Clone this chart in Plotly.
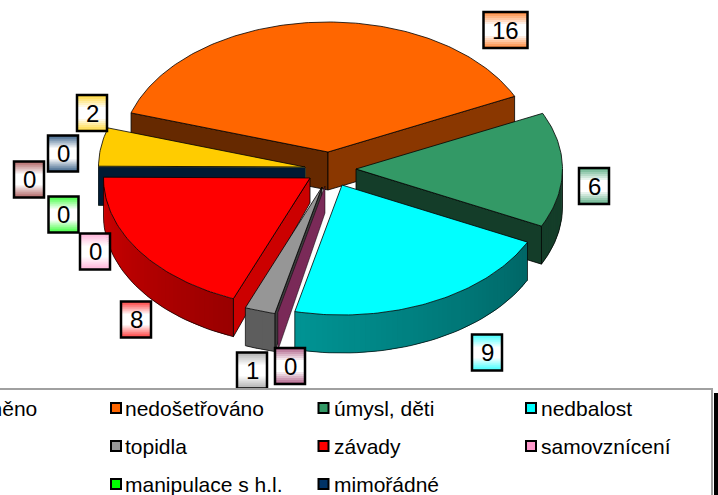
import math
import plotly.graph_objects as go

# ---- data (clockwise from the left edge of the large slice)
CATEGORIES = ["nedošetřováno", "úmysl, děti", "nedbalost", "neznámé", "topidla", "závady",
              "samovznícení", "manipulace s h.l.", "jiné", "mimořádné", "neobjasněno"]
VALUES = [16, 6, 9, 0, 1, 8, 0, 0, 0, 0, 2]
COLORS = ["#FF6600", "#339966", "#00FFFF", "#993366", "#969696", "#FF0000",
          "#FF99CC", "#00FF00", "#993333", "#003366", "#FFCC00"]
VALUE_LABELS = ["16", "6", "9", "0", "1", "8", "0", "0", "0", "0", "2"]

# ---- presentation
W, H = 718, 495
START = -72.5
RX, RY, DEPTH = 206.5, 130.0, 38.0
APEX = [(328, 152), (356, 169), (342, 185), (325, 186), (322, 187), (310, 178),
        (305, 168), (305, 168), (305, 168), (305, 168), (305, 167)]
APEX_DEPTH = [38, 38, 38, 27, 30, 25, 38, 38, 38, 38, 38]
DRAW_ORDER = [0, 10, 6, 7, 8, 9, 1, 5, 4, 3, 2]
# shade factors: start radial face, end radial face, arc at start angle, arc at end angle
SHADE = {0: (.40, .54, .5, .5), 1: (.40, .40, .40, .40), 2: (.40, .40, .40, .58), 3: (.80, .80, .8, .8),
         4: (.40, .62, .62, .62), 5: (.80, .80, .60, .82), 6: (.7, .7, .7, .7), 7: (.7, .7, .7, .7),
         8: (.7, .7, .7, .7), 9: (.5, .5, .5, .5), 10: (.5, .5, .5, .5)}
ZERO_SIDE = {3: "#7A2A58", 9: "#001A33"}
LABEL_POS = [(505.5, 30), (594, 186), (487, 352.5), (290, 366), (252, 370.5), (136, 319.5),
             (95, 251.5), (63.5, 214.5), (29, 179.5), (63, 153.5), (92, 113)]
LEGEND_ROWS = [(0, 408, 0), (1, 408, 1), (2, 408, 2), (4, 446, 0), (5, 446, 1), (6, 446, 2),
               (7, 484, 0), (9, 484, 1)]
LEGEND_SWATCH_X = [116, 323.5, 531]
LEGEND_TEXT_X = [122.5, 331.5, 538.5]
FONT = "Liberation Sans, Arial, sans-serif"


def rgb(c):
    return tuple(int(c[i:i + 2], 16) for i in (1, 3, 5))


def shade(c, f):
    return "rgb(%d,%d,%d)" % tuple(round(v * f) for v in rgb(c))


def mix_white(c, t):
    return "rgb(%d,%d,%d)" % tuple(round(v + (255 - v) * t) for v in rgb(c))


def pt(apex, a, dz=0.0):
    r = math.radians(a)
    return apex[0] + RX * math.sin(r), apex[1] - RY * math.cos(r) + dz


def poly(fig, pts, fill, line="black", w=0.8):
    fig.add_trace(go.Scatter(x=[p[0] for p in pts] + [pts[0][0]], y=[p[1] for p in pts] + [pts[0][1]],
                             mode="lines", fill="toself", fillcolor=fill,
                             line=dict(color=line, width=w), hoverinfo="skip", showlegend=False))


total = sum(VALUES)
angles = []
cur = START
for v in VALUES:
    angles.append((cur, cur + 360.0 * v / total))
    cur += 360.0 * v / total

fig = go.Figure()
for i in DRAW_ORDER:
    a0, a1 = angles[i]
    ap, col = APEX[i], COLORS[i]
    d0 = APEX_DEPTH[i]
    s0, s1, c0, c1 = SHADE[i]
    if VALUES[i] == 0:
        side = ZERO_SIDE.get(i, shade(col, s0))
        p = pt(ap, a0)
        poly(fig, [ap, p, (p[0], p[1] + DEPTH), (ap[0], ap[1] + d0)], side,
             line=side if i != 3 else "black", w=0.5)
        continue
    # radial faces that look towards the viewer
    for a, f, seen in ((a0, s0, 180 < a0 % 360 < 360), (a1, s1, 0 < a1 % 360 < 180)):
        if seen:
            p = pt(ap, a)
            poly(fig, [ap, p, (p[0], p[1] + DEPTH), (ap[0], ap[1] + d0)], shade(col, f))
    # outer wall, only its front part shows
    lo, hi = max(a0, 90.0), min(a1, 270.0)
    if hi > lo:
        n = max(2, int((hi - lo) / 1.5))
        for k in range(n):
            t0 = lo + (hi - lo) * k / n
            t1 = min(hi, lo + (hi - lo) * (k + 1) / n + 1.5)
            f = c0 + (c1 - c0) * ((t0 + t0 + 1.5) / 2 - a0) / (a1 - a0)
            c = shade(col, f)
            poly(fig, [pt(ap, t0), pt(ap, t1), pt(ap, t1, DEPTH), pt(ap, t0, DEPTH)], c, line=c, w=0)
        arc = [pt(ap, lo + (hi - lo) * k / 40, DEPTH) for k in range(41)]
        fig.add_trace(go.Scatter(x=[p[0] for p in arc], y=[p[1] for p in arc], mode="lines",
                                 line=dict(color="black", width=0.7), hoverinfo="skip", showlegend=False))
        for a in (lo, hi):
            p = pt(ap, a)
            fig.add_trace(go.Scatter(x=[p[0], p[0]], y=[p[1], p[1] + DEPTH], mode="lines",
                                     line=dict(color="black", width=0.7), hoverinfo="skip", showlegend=False))
    # top surface
    m = max(4, int(a1 - a0))
    poly(fig, [ap] + [pt(ap, a0 + (a1 - a0) * k / m) for k in range(m + 1)], col)

shapes, annotations = [], []
# value labels with a fading fill
for i, (cx, cy) in enumerate(LABEL_POS):
    bw = 44 if len(VALUE_LABELS[i]) > 1 else 30
    bh = 36
    strips = 18
    for k in range(strips):
        y0 = cy - bh / 2 + bh * k / strips
        y1 = cy - bh / 2 + bh * (k + 1) / strips
        t = 1 - abs((k + .5) / strips - .5) * 2
        shapes.append(dict(type="rect", xref="x", yref="y", x0=cx - bw / 2, x1=cx + bw / 2, y0=y0, y1=y1 + .4,
                           fillcolor=mix_white(COLORS[i], .2 + .8 * min(1, t * 1.4)), line=dict(width=0)))
    shapes.append(dict(type="rect", xref="x", yref="y", x0=cx - bw / 2, x1=cx + bw / 2,
                       y0=cy - bh / 2, y1=cy + bh / 2, line=dict(color="black", width=2.5)))
    annotations.append(dict(x=cx, y=cy, xref="x", yref="y", text=VALUE_LABELS[i], showarrow=False,
                            font=dict(family=FONT, size=24, color="black"), xanchor="center", yanchor="middle"))

# legend panel
shapes.append(dict(type="rect", xref="x", yref="y", x0=-6, x1=712, y0=389, y1=501,
                   fillcolor="white", line=dict(color="#A0A0A0", width=2)))
shapes.append(dict(type="rect", xref="x", yref="y", x0=714, x1=718, y0=393, y1=495,
                   fillcolor="black", line=dict(width=0)))
for i, y, col_i in LEGEND_ROWS:
    sx = LEGEND_SWATCH_X[col_i]
    shapes.append(dict(type="rect", xref="x", yref="y", x0=sx - 5, x1=sx + 5, y0=y - 5, y1=y + 5,
                       fillcolor=COLORS[i], line=dict(color="black", width=2)))
    annotations.append(dict(x=LEGEND_TEXT_X[col_i], y=y, xref="x", yref="y", text=CATEGORIES[i], showarrow=False,
                            font=dict(family=FONT, size=21, color="black"), xanchor="left", yanchor="middle"))
annotations.append(dict(x=39, y=408, xref="x", yref="y", text=CATEGORIES[10], showarrow=False,
                        font=dict(family=FONT, size=21, color="black"), xanchor="right", yanchor="middle"))

fig.update_layout(width=W, height=H, margin=dict(l=0, r=0, t=0, b=0), showlegend=False,
                  paper_bgcolor="white", plot_bgcolor="white", shapes=shapes, annotations=annotations,
                  xaxis=dict(range=[0, W], visible=False, fixedrange=True),
                  yaxis=dict(range=[H, 0], visible=False, fixedrange=True))
fig.write_html("out.html", config={"displayModeBar": False},
               post_script="document.body.style.margin='0';")
